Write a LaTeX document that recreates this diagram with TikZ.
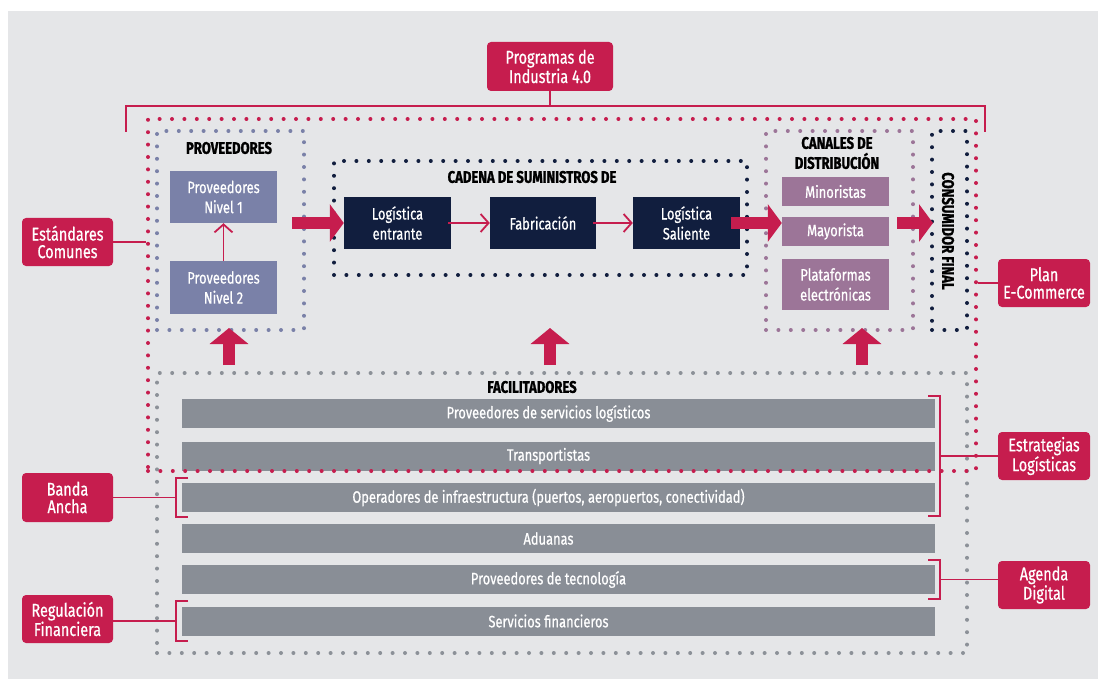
\documentclass[tikz,border=0pt]{standalone}
\usepackage{fontspec}
\setmainfont{Fira Sans}[FakeStretch=0.78, UprightFeatures={FakeBold=0.6}, BoldFeatures={FakeBold=1.2}]
\usetikzlibrary{arrows.meta}
\definecolor{crim}{RGB}{198,29,78}
\definecolor{navy}{RGB}{17,30,62}
\definecolor{bluegray}{RGB}{122,129,168}
\definecolor{mauve}{RGB}{156,117,152}
\definecolor{bargray}{RGB}{137,142,150}
\definecolor{bggray}{RGB}{229,230,232}
\definecolor{dotgray}{RGB}{140,145,152}
\tikzset{
  callout/.style={fill=crim, rounded corners=4pt, text=white, align=center, inner sep=0pt, font=\fontsize{18.5}{17.5}\selectfont},
  inbox/.style={inner sep=0pt, align=center, text=white, font=\fontsize{16.5}{20}\selectfont},
  bar/.style={fill=bargray, inner sep=0pt, text=white, minimum width=753pt, minimum height=29pt, font=\fontsize{16.5}{20}\selectfont, execute at begin node={\hspace*{-20pt}}},
  dotbox/.style={draw=#1, inner sep=0pt, line width=4pt, line cap=round, dash pattern=on 0pt off 12.4pt},
  ttl/.style={font=\bfseries\fontsize{16.8}{20}\selectfont, text=black, align=center, inner sep=0pt},
  bigarrow/.style={draw=crim, line width=12pt, -{Triangle[length=14pt,width=37pt]}},
  uparrow/.style={draw=crim, line width=12pt, -{Triangle[length=16pt,width=38pt]}},
  thinarrow/.style={draw=crim, line width=1.8pt, -{Straight Barb[length=8pt,width=18pt]}},
  link/.style={draw=crim, line width=1.6pt},
}
\begin{document}
\begin{tikzpicture}[x=1pt,y=-1pt]
\useasboundingbox (0,0) rectangle (1100,679);
\fill[bggray] (8,11) rectangle (1098,679);

% facilitator bars
\node[bar] (b1) at (558.5,413.5) {Proveedores de servicios logísticos};
\node[bar] (b2) at (558.5,456) {Transportistas};
\node[bar] (b3) at (558.5,497.5) {Operadores de infraestructura (puertos, aeropuertos, conectividad)};
\node[bar] (b4) at (558.5,538.5) {Aduanas};
\node[bar] (b5) at (558.5,579.5) {Proveedores de tecnología};
\node[bar] (b6) at (558.5,621) {Servicios financieros};

% dotted boxes
\node[dotbox=dotgray, minimum width=810pt, minimum height=280pt] (facil) at (562,513) {};
\node[dotbox=bluegray, minimum width=147pt, minimum height=199pt] (provbox) at (230.5,230.5) {};
\node[dotbox=navy, minimum width=413pt, minimum height=114pt] (cadbox) at (540.5,218) {};
\node[dotbox=mauve, minimum width=147pt, minimum height=199pt] (canbox) at (839.5,230.5) {};
\node[dotbox=navy, minimum width=35pt, minimum height=199pt] (consbox) at (949.5,230.5) {};
\node[dotbox=crim, minimum width=828pt, minimum height=352pt] (redbox) at (562,295) {};

% titles
\node[ttl] (tprov) at (229,148) {PROVEEDORES};
\node[ttl] (tcad) at (532,177) {CADENA DE SUMINISTROS DE};
\node[ttl] (tcan) at (837,153) {CANALES DE\\DISTRIBUCIÓN};
\node[ttl, rotate=-90] (tcons) at (948,231) {CONSUMIDOR FINAL};
\node[ttl] (tfac) at (532,387) {FACILITADORES};

% suppliers
\node[inbox, fill=bluegray, minimum width=107pt, minimum height=52pt] (n1) at (223.5,197) {Proveedores\\Nivel 1};
\node[inbox, fill=bluegray, minimum width=107pt, minimum height=53pt] (n2) at (223.5,287.5) {Proveedores\\Nivel 2};

% supply chain
\node[inbox, fill=navy, minimum width=107pt, minimum height=52pt] (le) at (397.5,223) {Logística\\entrante};
\node[inbox, fill=navy, minimum width=106pt, minimum height=52pt] (fab) at (543,223) {Fabricación};
\node[inbox, fill=navy, minimum width=107pt, minimum height=52pt] (ls) at (686.5,223) {Logística\\Saliente};

% channels
\node[inbox, fill=mauve, minimum width=107pt, minimum height=29pt] (mino) at (835.5,191.5) {Minoristas};
\node[inbox, fill=mauve, minimum width=107pt, minimum height=29pt] (mayo) at (835.5,231.5) {Mayorista};
\node[inbox, fill=mauve, minimum width=107pt, minimum height=51pt] (plat) at (835.5,284.5) {Plataformas\\electrónicas};

% callouts
\node[callout, minimum width=126pt, minimum height=49pt] (prog) at (550,66.5) {Programas de\\Industria 4.0};
\node[callout, minimum width=91pt, minimum height=48pt] (estand) at (67.5,242) {Estándares\\Comunes};
\node[callout, minimum width=92pt, minimum height=48pt] (plan) at (1044,283) {Plan\\E-Commerce};
\node[callout, minimum width=92pt, minimum height=48pt] (estrat) at (1044,456) {Estrategias\\Logísticas};
\node[callout, minimum width=92pt, minimum height=48pt] (agenda) at (1044,585) {Agenda\\Digital};
\node[callout, minimum width=91pt, minimum height=49pt] (banda) at (67.5,497.5) {Banda\\Ancha};
\node[callout, minimum width=91pt, minimum height=48pt] (regul) at (67.5,619) {Regulación\\Financiera};

% top bracket
\coordinate (tl) at (126,132);
\coordinate (tr) at (985,132);
\coordinate (tm) at (550,106);
\draw[link] (tl) -- (tl |- tm) -- (tr |- tm) -- (tr);
\draw[link] (prog.south) -- (tm);

% side connectors
\draw[link] (estand.east) -- (estand.east -| redbox.west);
\draw[link] (plan.west) -- (plan.west -| redbox.east);

% brackets
\coordinate (eb) at (940,456);
\draw[link] (928,396) -- (940,396) -- (940,516) -- (928,516);
\draw[link] (eb) -- (eb -| estrat.west);
\coordinate (ab) at (940,579.5);
\draw[link] (928,560) -- (940,560) -- (940,599) -- (928,599);
\draw[link] (ab) -- (ab -| agenda.west);
\coordinate (bb) at (176,497.5);
\draw[link] (188,478) -- (176,478) -- (176,517) -- (188,517);
\draw[link] (bb) -- (bb -| banda.east);
\coordinate (rb) at (176,621);
\draw[link] (188,601) -- (176,601) -- (176,641) -- (188,641);
\draw[link] (rb) -- (rb -| regul.east);

% arrows
\draw[thinarrow] (n2.north) -- (n1.south);
\draw[thinarrow] ([xshift=-3pt]le.east) -- (fab.west);
\draw[thinarrow] ([xshift=-3pt]fab.east) -- (ls.west);
\draw[bigarrow] ([xshift=-14pt]provbox.east |- le.west) -- (le.west);
\draw[bigarrow] ([xshift=-9pt]ls.east) -- (ls.east -| mayo.west);
\draw[bigarrow] ([xshift=8pt]mayo.east |- ls.east) -- ([xshift=3pt]consbox.west |- ls.east);

\coordinate (u1) at (229,328);
\coordinate (u2) at (550,328);
\coordinate (u3) at (862,328);
\draw[uparrow] ([yshift=6pt]facil.north -| u1) -- (u1);
\draw[uparrow] ([yshift=6pt]facil.north -| u2) -- (u2);
\draw[uparrow] ([yshift=6pt]facil.north -| u3) -- (u3);
\end{tikzpicture}
\end{document}
